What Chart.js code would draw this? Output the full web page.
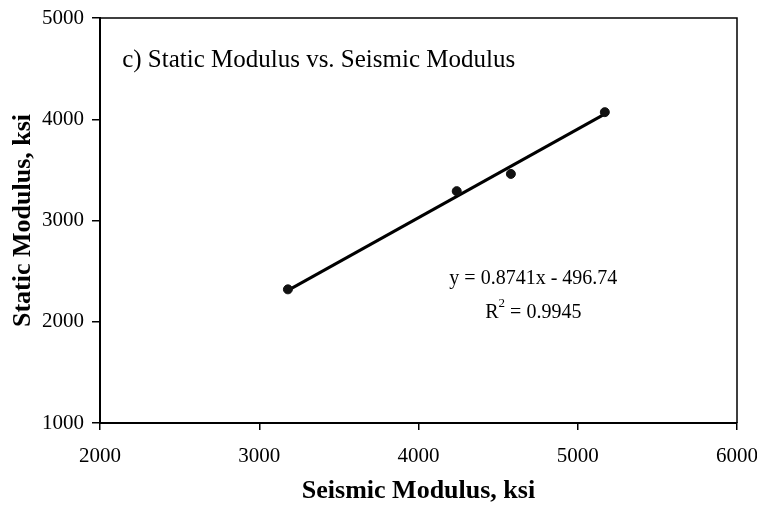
<!DOCTYPE html>
<html>
<head>
<meta charset="utf-8">
<script src="https://cdn.jsdelivr.net/npm/chart.js@4/dist/chart.umd.min.js"></script>
<style>
  html, body { margin: 0; padding: 0; background: #fff; }
  #wrap { width: 757px; height: 506px; }
</style>
</head>
<body>
<div id="wrap"><canvas id="chart" width="757" height="506"></canvas></div>
<script>
// Measured values
const seismicModulus = [3180, 4240, 4580, 5170];
const staticModulus = [2320, 3290, 3460, 4070];

// Trendline end points
const trendX = [3180, 5180];
const trendY = [2310, 4060];

const xTicks = [2000, 3000, 4000, 5000, 6000];
const yTicks = [1000, 2000, 3000, 4000, 5000];

const chartTitle = 'c) Static Modulus vs. Seismic Modulus';
const equationText = 'y = 0.8741x - 496.74';
const r2Value = '0.9945';

const serif = '"Liberation Serif", "Times New Roman", serif';

// Frame + annotation text inside the plot
const annotations = {
    id: 'annotations',
    afterDraw(chart) {
        const { ctx, chartArea: a, scales } = chart;
        ctx.save();
        ctx.strokeStyle = '#000';
        ctx.lineWidth = 1.5;
        ctx.beginPath();
        ctx.moveTo(a.left, a.top);
        ctx.lineTo(a.right, a.top);
        ctx.lineTo(a.right, a.bottom);
        ctx.stroke();

        ctx.fillStyle = '#000';
        ctx.textBaseline = 'middle';
        ctx.font = '25px ' + serif;
        ctx.textAlign = 'left';
        ctx.fillText(chartTitle, scales.x.getPixelForValue(2139), scales.y.getPixelForValue(4584));

        ctx.font = '20px ' + serif;
        ctx.textAlign = 'center';
        const cx = scales.x.getPixelForValue(4721);
        ctx.fillText(equationText, cx, scales.y.getPixelForValue(2426));

        // R² with superscript
        const y2 = scales.y.getPixelForValue(2089);
        const rest = ' = ' + r2Value;
        const rw = ctx.measureText('R').width;
        const restW = ctx.measureText(rest).width;
        ctx.font = '13px ' + serif;
        const sw = ctx.measureText('2').width;
        const x0 = cx - (rw + sw + restW) / 2;
        ctx.textAlign = 'left';
        ctx.fillText('2', x0 + rw, y2 - 9);
        ctx.font = '20px ' + serif;
        ctx.fillText('R', x0, y2);
        ctx.fillText(rest, x0 + rw + sw, y2);
        ctx.restore();
    }
};

const tickFont = { family: serif, size: 21 };
const titleFont = { family: serif, size: 26, weight: 'bold', lineHeight: 1 };

new Chart(document.getElementById('chart'), {
    type: 'scatter',
    data: {
        datasets: [
            {
                label: 'Data',
                data: seismicModulus.map((x, i) => ({ x, y: staticModulus[i] })),
                backgroundColor: '#111',
                borderColor: '#111',
                pointRadius: 4.5,
                pointHoverRadius: 4.5
            },
            {
                label: 'Trend',
                data: trendX.map((x, i) => ({ x, y: trendY[i] })),
                showLine: true,
                borderColor: '#000',
                borderWidth: 3,
                pointRadius: 0,
                fill: false
            }
        ]
    },
    plugins: [annotations],
    options: {
        responsive: false,
        animation: false,
        layout: { padding: { top: 18, right: 20, left: 0, bottom: 0 } },
        plugins: {
            legend: { display: false },
            tooltip: { enabled: false }
        },
        scales: {
            x: {
                type: 'linear',
                min: 2000,
                max: 6000,
                afterBuildTicks: s => { s.ticks = xTicks.map(v => ({ value: v })); },
                afterFit: s => { s.height = 83; s.paddingLeft = 0; s.paddingRight = 0; },
                border: { color: '#000', width: 2 },
                grid: { drawOnChartArea: false, drawTicks: true, tickLength: 7, color: '#000', lineWidth: 1.5 },
                ticks: { color: '#000', font: tickFont, padding: 14, maxRotation: 0, callback: v => String(v) },
                title: {
                    display: true,
                    text: 'Seismic Modulus, ksi',
                    color: '#000',
                    font: titleFont,
                    padding: { top: 0, bottom: 2 }
                }
            },
            y: {
                type: 'linear',
                min: 1000,
                max: 5000,
                afterBuildTicks: s => { s.ticks = yTicks.map(v => ({ value: v })); },
                afterFit: s => { s.width = 100; s.paddingTop = 0; s.paddingBottom = 0; },
                border: { color: '#000', width: 2 },
                grid: { drawOnChartArea: false, drawTicks: true, tickLength: 8, color: '#000', lineWidth: 1.5 },
                ticks: { color: '#000', font: tickFont, padding: 8, callback: v => String(v) },
                title: {
                    display: true,
                    text: 'Static Modulus, ksi',
                    color: '#000',
                    font: titleFont,
                    padding: { top: 10, bottom: 0 }
                }
            }
        }
    }
});
</script>
</body>
</html>
